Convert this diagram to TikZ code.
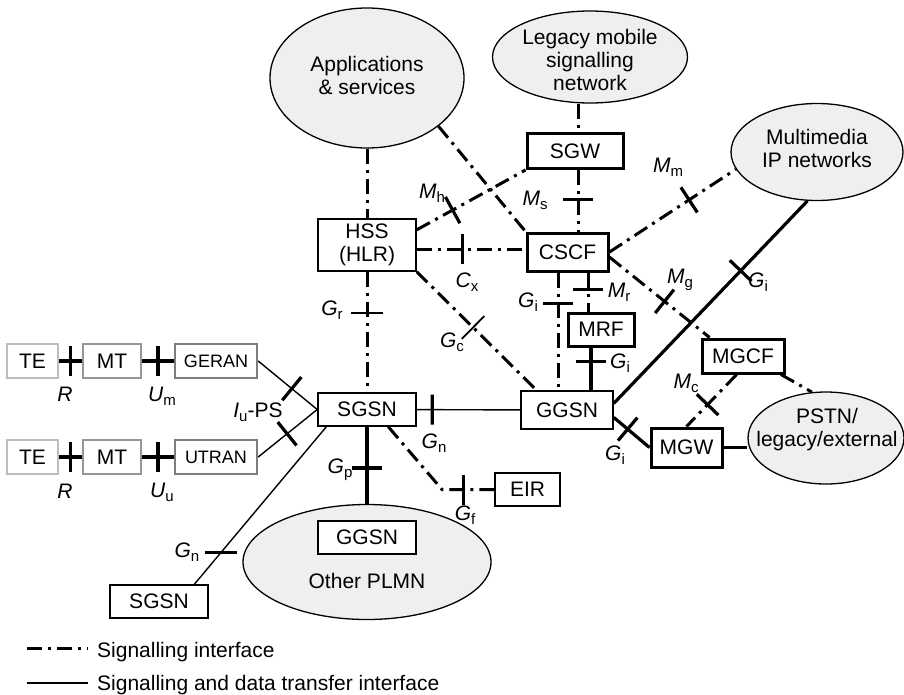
\documentclass[tikz,border=0pt]{standalone}
\usepackage{fontspec}
\setmainfont{Liberation Sans}
\usetikzlibrary{shapes.geometric,decorations.markings,calc}
\definecolor{cloudgray}{RGB}{239,239,239}
\definecolor{teedge}{RGB}{190,190,190}
\definecolor{mtedge}{RGB}{150,150,150}
\definecolor{ranedge}{RGB}{125,125,125}
% interface name: italic letter with an upright, lowered index
\newcommand\sublab[2]{\textit{#1}\raisebox{-4pt}{\fontsize{15}{15}\selectfont #2}}

\begin{document}
\begin{tikzpicture}[x=1pt,y=-1pt,
  every node/.style={font=\fontsize{21}{23}\selectfont, inner sep=0pt},
  net/.style={ellipse, draw, line width=1.3pt, fill=cloudgray},
  box/.style={rectangle, draw, line width=1.5pt, fill=white, minimum height=33pt},
  hbox/.style={rectangle, draw, line width=3pt, fill=white, minimum height=35pt},
  termbox/.style={rectangle, draw, line width=2.4pt, fill=white, minimum height=34pt},
  sig/.style={line width=3pt, dash pattern=on 15pt off 6pt on 3pt off 6pt},
  data/.style={line width=1.4pt},
  bold/.style={line width=3.2pt},
  tickat/.style={postaction={decorate,decoration={markings,
      mark=at position #1 with {\draw[solid,line width=3.2pt] (0pt,-15pt) -- (0pt,15pt);}}}},
  thintickat/.style={postaction={decorate,decoration={markings,
      mark=at position #1 with {\draw[solid,line width=1.8pt] (0pt,-16pt) -- (0pt,16pt);}}}},
  htickat/.style={postaction={decorate,decoration={markings,
      mark=at position #1 with {\pgftransformresetnontranslations
        \draw[solid,line width=3.2pt] (-16pt,0pt) -- (16pt,0pt);}}}},
]
\useasboundingbox (0,0) rectangle (904,694);

% ---------- networks ----------
\node[net, minimum width=194pt, minimum height=140pt] (apps) at (367,78) {};
\node[align=center] (appst) at (367,75) {Applications\\\& services};
\node[net, minimum width=195pt, minimum height=92pt] (legacy) at (590,57) {};
\node[align=center] (legacyt) at (590,60) {Legacy mobile\\signalling\\network};
\node[net, minimum width=172pt, minimum height=97pt] (mm) at (817,152) {};
\node[align=center] (mmt) at (817,148) {Multimedia\\IP networks};
\node[net, minimum width=156pt, minimum height=92pt] (pstn) at (826,438) {};
\node[align=center] (pstnt) at (827,430) {PSTN/\\legacy/external};
\node[net, minimum width=248pt, minimum height=115pt] (plmn) at (367,562) {};
\node[box, minimum width=98pt] (ggsn2) at (367,537.5) {GGSN};
\node (plmnt) at (367,581) {Other PLMN};

% ---------- core elements ----------
\node[box, minimum width=98pt, minimum height=52pt, align=center] (hss) at (367,245) {HSS\\(HLR)};
\node[hbox, minimum width=96pt] (sgw) at (575,151) {SGW};
\node[hbox, minimum width=81pt, minimum height=38pt] (cscf) at (567.5,252) {CSCF};
\node[hbox, minimum width=66pt, minimum height=33pt] (mrf) at (601,329.5) {MRF};
\node[hbox, minimum width=82pt, minimum height=34pt] (mgcf) at (743,356) {MGCF};
\node[hbox, minimum width=71pt, minimum height=39pt] (mgw) at (686.5,447.5) {MGW};
\node[box, minimum width=98pt] (sgsn) at (367,409.5) {SGSN};
\node[box, minimum width=92pt, minimum height=38pt] (ggsn) at (567,410) {GGSN};
\node[box, minimum width=65pt] (eir) at (527.5,489.5) {EIR};
\node[box, minimum width=98pt] (sgsn2) at (159,601.5) {SGSN};

% ---------- terminals and radio access ----------
\node[termbox, draw=teedge, minimum width=51pt] (te1) at (32.5,361) {TE};
\node[termbox, draw=mtedge, minimum width=58pt] (mt1) at (112,361) {MT};
\node[termbox, draw=ranedge, minimum width=82pt, font=\fontsize{18}{20}\selectfont] (geran) at (216,361) {GERAN};
\node[termbox, draw=teedge, minimum width=51pt] (te2) at (32.5,457) {TE};
\node[termbox, draw=mtedge, minimum width=58pt] (mt2) at (112,457) {MT};
\node[termbox, draw=ranedge, minimum width=82pt, font=\fontsize{18}{20}\selectfont] (utran) at (216,457) {UTRAN};

\draw[bold, tickat=0.5] (te1) -- (mt1);
\draw[bold, tickat=0.5] (mt1) -- (geran);
\draw[bold, tickat=0.5] (te2) -- (mt2);
\draw[bold, tickat=0.5] (mt2) -- (utran);

% ---------- signalling interfaces ----------
\coordinate (cxa) at ($(hss.east)+(0,4)$);
\coordinate (gix) at (558,0);
\coordinate (mrx) at (588,0);
\coordinate (msx) at (578,0);
\coordinate (gmx) at (591,0);
\coordinate (gfc) at (442,489.5);

\draw[sig] (apps) -- (hss);
\draw[sig] (apps.-34) -- (cscf.north west);
\draw[sig, tickat=0.33] (hss.17) -- (sgw.south west);
\draw[sig, tickat=0.42] (cxa) -- (cxa -| cscf.west);
\draw[sig, thintickat=0.47] (hss.south east) -- (ggsn.147);
\draw[sig, thintickat=0.34] (hss) -- (sgsn);
\draw[sig, tickat=0.26] (cscf.south -| gix) -- (ggsn.north -| gix);
\draw[sig, tickat=0.43] (cscf.south -| mrx) -- (mrf.north -| mrx);
\draw[sig] (legacy.south -| msx) -- (sgw.north -| msx);
\draw[sig, tickat=0.48] (sgw.south -| msx) -- (cscf.north -| msx);
\draw[sig, tickat=0.55] (cscf.-7) -- (mgcf.151);
\draw[sig, tickat=0.63] (cscf.east) -- (mm.192);
\draw[sig] (mgcf.-26.6) -- (pstn.107);
\draw[sig, tickat=0.58] (mgcf.-109) -- (mgw.north);
\draw[sig, tickat=0.77] (sgsn.-39.5) -- (gfc) -- (eir.west);

% ---------- signalling and data transfer interfaces ----------
\draw[data, tickat=0.57] (geran.east) -- (sgsn.west);
\draw[data, tickat=0.49] (utran.east) -- (sgsn.west);
\draw[data, htickat=0.80] (sgsn.203) -- (sgsn2.26.6);
\draw[data, tickat=0.15] (sgsn) -- (ggsn);
\draw[bold, tickat=0.535] (sgsn) -- (plmn);
\draw[bold, tickat=0.33] (mrf.south -| gmx) -- (ggsn.north -| gmx);
\draw[bold, tickat=0.655] (ggsn.8.7) -- (mm.-101.5);
\draw[bold, tickat=0.39] (ggsn.-9.9) -- (mgw.west);
\draw[bold] (mgw.east) -- (mgw.east -| pstn.west);

% ---------- interface names ----------
\node (lr1) at (65,394) {\textit{R}};
\node (lum) at (162,396) {\sublab{U}{m}};
\node (lr2) at (65,491) {\textit{R}};
\node (luu) at (162,492) {\sublab{U}{u}};
\node (liu) at (258,412) {\sublab{I}{u}-PS};
\node (lmh) at (432,193) {\sublab{M}{h}};
\node (lms) at (535,200) {\sublab{M}{s}};
\node (lmm) at (668,167) {\sublab{M}{m}};
\node (lcx) at (467,282) {\sublab{C}{x}};
\node (lgr) at (332,310) {\sublab{G}{r}};
\node (lgc) at (452,342) {\sublab{G}{c}};
\node (lgi1) at (528,302) {\sublab{G}{i}};
\node (lmr) at (619,292) {\sublab{M}{r}};
\node (lgi2) at (620,363) {\sublab{G}{i}};
\node (lmg) at (680,280) {\sublab{M}{g}};
\node (lgi3) at (758,282) {\sublab{G}{i}};
\node (lmc) at (686,383) {\sublab{M}{c}};
\node (lgi4) at (615,455) {\sublab{G}{i}};
\node (lgn1) at (434,443) {\sublab{G}{n}};
\node (lgp) at (340,470) {\sublab{G}{p}};
\node (lgf) at (465,515) {\sublab{G}{f}};
\node (lgn2) at (187,552) {\sublab{G}{n}};

% ---------- legend ----------
\coordinate (l1a) at (27,648);
\coordinate (l1b) at (88,648);
\coordinate (l2a) at (27,683);
\coordinate (l2b) at (88,683);
\draw[sig] (l1a) -- (l1b);
\draw[data] (l2a) -- (l2b);
\node[anchor=base west] (l1t) at (97,657) {Signalling interface};
\node[anchor=base west] (l2t) at (97,690) {Signalling and data transfer interface};
\end{tikzpicture}
\end{document}
